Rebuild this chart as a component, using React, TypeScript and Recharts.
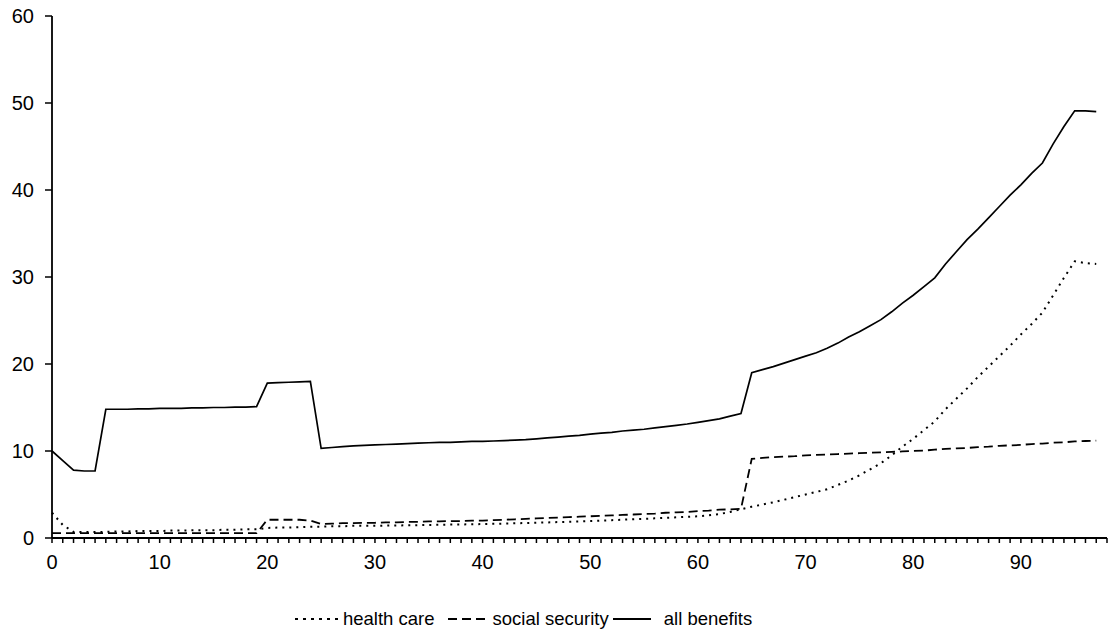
import React from "react";
import { LineChart, Line, XAxis, YAxis } from "recharts";

const ages = [
  0, 1, 2, 3, 4, 5, 6, 7, 8, 9, 10, 11, 12, 13, 14, 15, 16, 17, 18, 19,
  20, 21, 22, 23, 24, 25, 26, 27, 28, 29, 30, 31, 32, 33, 34, 35, 36, 37, 38, 39,
  40, 41, 42, 43, 44, 45, 46, 47, 48, 49, 50, 51, 52, 53, 54, 55, 56, 57, 58, 59,
  60, 61, 62, 63, 64, 65, 66, 67, 68, 69, 70, 71, 72, 73, 74, 75, 76, 77, 78, 79,
  80, 81, 82, 83, 84, 85, 86, 87, 88, 89, 90, 91, 92, 93, 94, 95, 96, 97,
];

const healthCare = [
  2.9, 1.5, 0.7, 0.7, 0.7, 0.7, 0.75, 0.75, 0.8, 0.8, 0.8, 0.85, 0.85, 0.9, 0.9, 0.9, 0.95, 0.95, 1.0, 1.0,
  1.15, 1.2, 1.2, 1.25, 1.3, 1.3, 1.35, 1.35, 1.4, 1.4, 1.4, 1.42, 1.44, 1.46, 1.48, 1.5, 1.52, 1.54, 1.56, 1.58,
  1.6, 1.63, 1.66, 1.69, 1.72, 1.75, 1.79, 1.83, 1.87, 1.91, 1.95, 2.0, 2.05, 2.1, 2.15, 2.2, 2.26, 2.32, 2.38, 2.44,
  2.5, 2.6, 2.75, 3.0, 3.3, 3.6, 3.85, 4.1, 4.4, 4.7, 5.0, 5.3, 5.6, 6.1, 6.6, 7.2, 7.9, 8.6, 9.5, 10.5,
  11.4, 12.4, 13.4, 14.8, 16.0, 17.2, 18.5, 19.7, 20.9, 22.1, 23.4, 24.6, 25.9, 27.9, 29.9, 31.8, 31.6, 31.5,
];

const socialSecurity = [
  0.55, 0.55, 0.55, 0.55, 0.55, 0.55, 0.55, 0.55, 0.55, 0.55, 0.55, 0.55, 0.55, 0.55, 0.55, 0.55, 0.55, 0.55, 0.55, 0.55,
  2.1, 2.1, 2.1, 2.1, 2.0, 1.6, 1.65, 1.7, 1.7, 1.75, 1.75, 1.8, 1.8, 1.85, 1.85, 1.9, 1.9, 1.95, 1.95, 2.0,
  2.0, 2.05, 2.1, 2.15, 2.2, 2.25, 2.3, 2.35, 2.4, 2.45, 2.5, 2.55, 2.6, 2.65, 2.7, 2.75, 2.8, 2.9, 2.95, 3.0,
  3.1, 3.15, 3.25, 3.3, 3.35, 9.1, 9.2, 9.3, 9.35, 9.4, 9.5, 9.55, 9.6, 9.65, 9.7, 9.75, 9.8, 9.85, 9.9, 9.95,
  10.0, 10.05, 10.15, 10.25, 10.3, 10.35, 10.45, 10.5, 10.6, 10.65, 10.7, 10.8, 10.85, 10.95, 11.0, 11.1, 11.15, 11.2,
];

const allBenefits = [
  10.0, 8.9, 7.8, 7.7, 7.7, 14.8, 14.8, 14.8, 14.85, 14.85, 14.9, 14.9, 14.9, 14.95, 14.95, 15.0, 15.0, 15.05, 15.05, 15.1,
  17.8, 17.85, 17.9, 17.95, 18.0, 10.3, 10.4, 10.5, 10.6, 10.65, 10.7, 10.75, 10.8, 10.85, 10.9, 10.95, 11.0, 11.0, 11.05, 11.1,
  11.1, 11.15, 11.2, 11.25, 11.3, 11.4, 11.5, 11.6, 11.7, 11.8, 11.95, 12.05, 12.15, 12.3, 12.4, 12.5, 12.65, 12.8, 12.95, 13.1,
  13.3, 13.5, 13.7, 14.0, 14.3, 19.0, 19.35, 19.7, 20.1, 20.5, 20.9, 21.3, 21.8, 22.4, 23.1, 23.7, 24.4, 25.1, 26.0, 27.0,
  27.9, 28.9, 29.9, 31.5, 32.9, 34.3, 35.5, 36.8, 38.1, 39.4, 40.6, 41.9, 43.1, 45.3, 47.3, 49.1, 49.1, 49.0,
];

const xTicks = [
  0, 1, 2, 3, 4, 5, 6, 7, 8, 9, 10, 11, 12, 13, 14, 15, 16, 17, 18, 19,
  20, 21, 22, 23, 24, 25, 26, 27, 28, 29, 30, 31, 32, 33, 34, 35, 36, 37, 38, 39,
  40, 41, 42, 43, 44, 45, 46, 47, 48, 49, 50, 51, 52, 53, 54, 55, 56, 57, 58, 59,
  60, 61, 62, 63, 64, 65, 66, 67, 68, 69, 70, 71, 72, 73, 74, 75, 76, 77, 78, 79,
  80, 81, 82, 83, 84, 85, 86, 87, 88, 89, 90, 91, 92, 93, 94, 95, 96, 97, 98,
];
const yTicks = [0, 10, 20, 30, 40, 50, 60];

const data = ages.map((age, i) => ({
  age,
  health: healthCare[i],
  social: socialSecurity[i],
  all: allBenefits[i],
}));

const font = "'Liberation Sans', Arial, sans-serif";

function LegendIcon({ dash, width }: { dash?: string; width: number }) {
  return (
    <svg width={width} height={10} style={{ display: "block" }}>
      <line x1={0} y1={5} x2={width} y2={5} stroke="#000" strokeWidth={1.8} strokeDasharray={dash} />
    </svg>
  );
}

export default function App() {
  return (
    <div style={{ position: "absolute", left: 0, top: 0, width: 1114, height: 635, background: "#fff", fontFamily: font }}>
      <LineChart width={1114} height={635} data={data} margin={{ top: 16, right: 7, bottom: 67, left: 0 }}>
        <XAxis
          dataKey="age"
          type="number"
          domain={[0, 98]}
          ticks={xTicks}
          interval={0}
          tickSize={5}
          tickMargin={12}
          height={30}
          tickFormatter={(v: number) => (v % 10 === 0 ? String(v) : "")}
          tick={{ fill: "#000", fontSize: 20, fontFamily: font }}
          axisLine={{ stroke: "#000", strokeWidth: 1.8 }}
          tickLine={{ stroke: "#000", strokeWidth: 1.5 }}
        />
        <YAxis
          type="number"
          domain={[0, 60]}
          ticks={yTicks}
          width={52}
          tickSize={7}
          tickMargin={11}
          tick={{ fill: "#000", fontSize: 20, fontFamily: font }}
          axisLine={{ stroke: "#000", strokeWidth: 1.8 }}
          tickLine={{ stroke: "#000", strokeWidth: 1.5 }}
        />
        <Line dataKey="health" stroke="#000" strokeWidth={2} strokeDasharray="2 5" dot={false} isAnimationActive={false} />
        <Line dataKey="social" stroke="#000" strokeWidth={1.8} strokeDasharray="9 5" dot={false} isAnimationActive={false} />
        <Line dataKey="all" stroke="#000" strokeWidth={1.7} dot={false} isAnimationActive={false} />
      </LineChart>
      <div
        style={{
          position: "absolute",
          left: 295,
          top: 608,
          display: "flex",
          alignItems: "center",
          fontSize: 18.5,
          color: "#000",
          whiteSpace: "nowrap",
        }}
      >
        <LegendIcon dash="3 5" width={45} />
        <span style={{ marginLeft: 3, marginRight: 13 }}>health care</span>
        <LegendIcon dash="9 5" width={40} />
        <span style={{ marginLeft: 5, marginRight: 4 }}>social security</span>
        <LegendIcon width={38} />
        <span style={{ marginLeft: 13 }}>all benefits</span>
      </div>
    </div>
  );
}
